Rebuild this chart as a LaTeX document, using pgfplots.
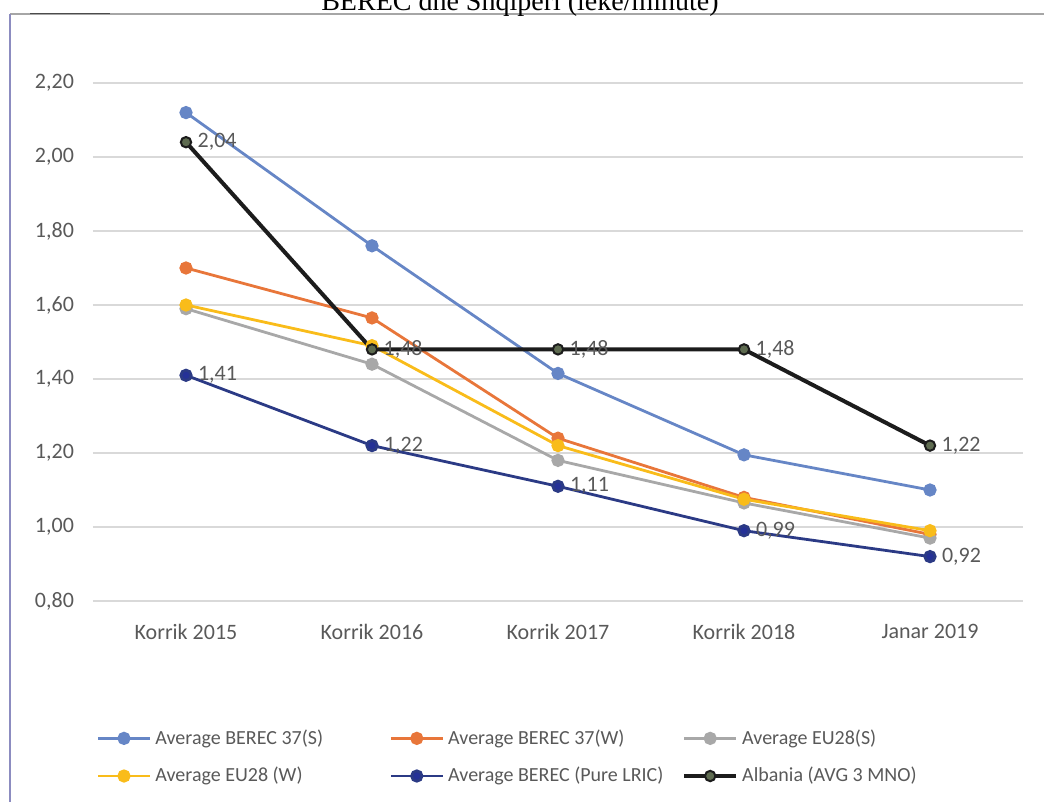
\documentclass[border=0pt]{standalone}
\usepackage{fontspec}
\setmainfont{Carlito}
\newfontfamily\titlefont{Liberation Serif}
\usepackage{pgfplots}
\pgfplotsset{compat=1.18}

\definecolor{bsblue}{HTML}{6686C6}
\definecolor{bworange}{HTML}{E8763A}
\definecolor{eusgray}{HTML}{A8A8A8}
\definecolor{euwgold}{HTML}{F9BC1A}
\definecolor{lricnavy}{HTML}{2B3A85}
\definecolor{albblack}{HTML}{1C1C1C}
\definecolor{albmark}{HTML}{5E6B50}
\definecolor{txtgray}{HTML}{595959}
\definecolor{gridgray}{HTML}{D9D9D9}

\tikzset{label node/.style={anchor=west, xshift=2pt, font=\fontsize{11}{13}\selectfont, text=txtgray}}

\begin{document}
\begin{tikzpicture}
\useasboundingbox (0,0) rectangle (522pt,401pt);
% frame remains of the scanned page
\draw[color=gray!70, line width=0.9pt] (5pt,394pt) -- (522pt,394pt);
\draw[color=black!70, line width=0.9pt] (15pt,394.2pt) -- (55pt,394.2pt);
\draw[color={rgb,255:red,140;green,140;blue,192}, line width=1.2pt] (5pt,394pt) -- (5pt,0pt);
\node[anchor=base, font=\titlefont\fontsize{14}{16}\selectfont] at (260pt,395.5pt) {BEREC dhe Shqipëri (lekë/minutë)};

\begin{axis}[
    at={(46.5pt,100.5pt)}, anchor=south west,
    scale only axis,
    width=465pt, height=259pt,
    xmin=-0.5, xmax=4.5,
    ymin=0.8, ymax=2.2,
    axis line style={draw=none},
    xtick={0,1,2,3,4},
    xticklabels={Korrik 2015, Korrik 2016, Korrik 2017, Korrik 2018, Janar 2019},
    ytick={0.8,1.0,1.2,1.4,1.6,1.8,2.0,2.2},
    tick style={draw=none},
    ymajorgrids=true,
    grid style={gridgray, line width=0.6pt},
    ticklabel style={font=\fontsize{11}{13}\selectfont, text=txtgray},
    yticklabel style={xshift=-6pt},
    xticklabel style={yshift=-8pt},
    /pgf/number format/.cd, use comma, fixed, fixed zerofill, precision=2, assume math mode=true,
    /pgfplots/.cd,
    every axis plot/.append style={line width=1.4pt, mark=*, mark size=2.6pt},
    legend columns=3,
    legend cell align=left,
    legend style={at={(-0.003,-0.232)}, anchor=north west, draw=none, fill=none,
        font=\fontsize{10}{12}\selectfont, text=txtgray,
        column sep=0pt, row sep=6pt},
    legend image code/.code={\draw[mark repeat=2, mark phase=2] plot coordinates {(0pt,0pt) (13pt,0pt) (26pt,0pt)};},
]

\addplot[color=bsblue, mark options={fill=bsblue, draw=bsblue}] coordinates {
    (0,2.12) (1,1.76) (2,1.415) (3,1.195) (4,1.10)
};
\addlegendentry{\makebox[115pt][l]{Average BEREC 37(S)}}

\addplot[color=bworange, mark options={fill=bworange, draw=bworange}] coordinates {
    (0,1.70) (1,1.565) (2,1.24) (3,1.08) (4,0.98)
};
\addlegendentry{\makebox[115pt][l]{Average BEREC 37(W)}}

\addplot[color=eusgray, mark options={fill=eusgray, draw=eusgray}] coordinates {
    (0,1.59) (1,1.44) (2,1.18) (3,1.065) (4,0.97)
};
\addlegendentry{\makebox[115pt][l]{Average EU28(S)}}

\addplot[color=euwgold, mark options={fill=euwgold, draw=euwgold}] coordinates {
    (0,1.60) (1,1.49) (2,1.22) (3,1.075) (4,0.99)
};
\addlegendentry{\makebox[115pt][l]{Average EU28 (W)}}

\addplot[color=lricnavy, mark options={fill=lricnavy!85!blue, draw=lricnavy},
    nodes near coords={\pgfmathprintnumber[use comma,fixed,fixed zerofill,precision=2]{\pgfplotspointmeta}},
    every node near coord/.append style={label node}] coordinates {
    (0,1.41) (1,1.22) (2,1.11) (3,0.99) (4,0.92)
};
\addlegendentry{\makebox[115pt][l]{Average BEREC (Pure LRIC)}}

\addplot[color=albblack, line width=2pt, mark options={fill=albmark, draw=albblack, line width=1pt},
    nodes near coords={\pgfmathprintnumber[use comma,fixed,fixed zerofill,precision=2]{\pgfplotspointmeta}},
    every node near coord/.append style={label node}] coordinates {
    (0,2.04) (1,1.48) (2,1.48) (3,1.48) (4,1.22)
};
\addlegendentry{\makebox[115pt][l]{Albania (AVG 3 MNO)}}

\end{axis}
\end{tikzpicture}
\end{document}
